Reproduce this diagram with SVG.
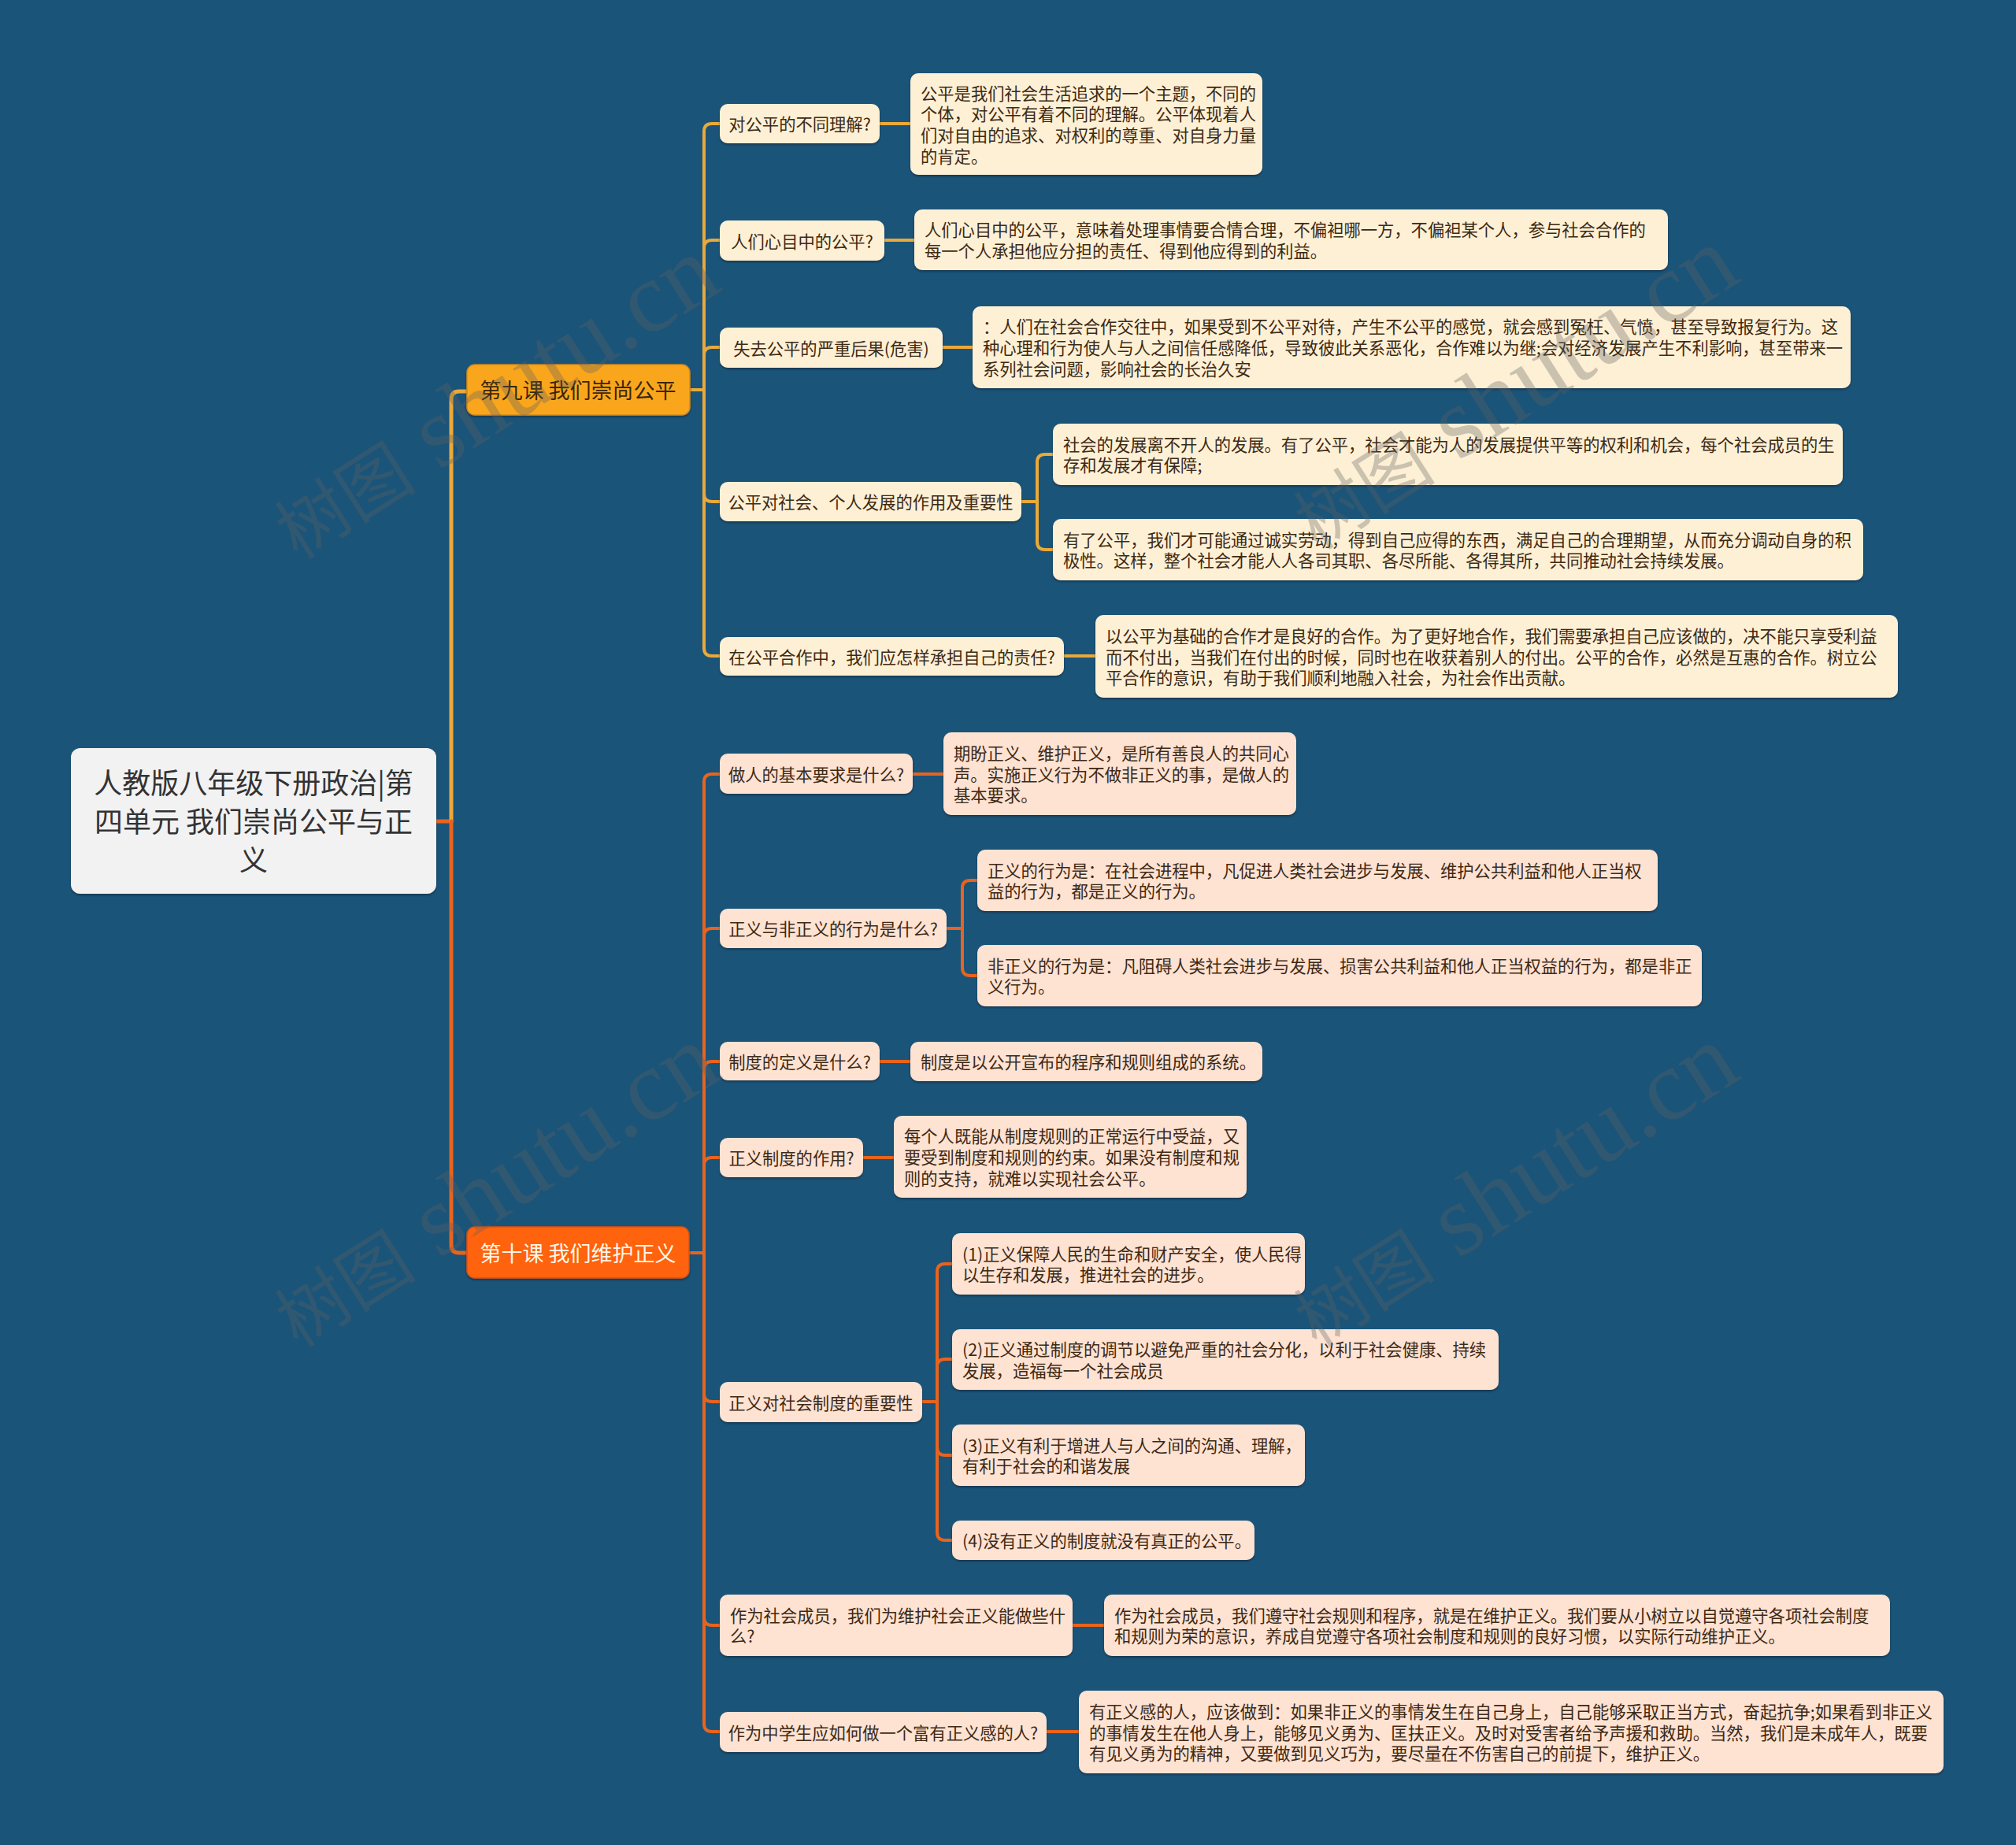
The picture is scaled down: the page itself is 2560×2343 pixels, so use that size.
<svg xmlns="http://www.w3.org/2000/svg" width="2560" height="2343" viewBox="0 0 2560 2343">
<defs>
<filter id="sh" x="-5%" y="-10%" width="110%" height="130%"><feDropShadow dx="0" dy="2" stdDeviation="1" flood-color="#0a2638" flood-opacity="0.6"/></filter>
<style>
text{font-family:"Noto Sans CJK SC","Noto Sans",sans-serif;}
.t{font-size:21.3px;fill:#3d2914;transform:translateY(1.5px);}
.sh{transform:translateY(1.5px);}
.n9{fill:#fdf0d5;filter:url(#sh);}
.n10{fill:#fee2d2;filter:url(#sh);}
.c9{fill:none;stroke:#eaa93a;stroke-width:4;stroke-linecap:round;}
.c10{fill:none;stroke:#e8641e;stroke-width:4;stroke-linecap:round;}
.tr{stroke-width:5;}
.wm{font-family:"Liberation Serif","Noto Sans CJK SC",serif;fill:#606060;fill-opacity:0.32;}
</style>
</defs>
<rect width="2560" height="2343" fill="#1b5479"/>

<g id="connectors">
<path class="c10 tr" d="M554 1043 H573"/>
<path class="c9 tr" d="M573 1043 V507 Q573 497 583 497 H593"/>
<path class="c10 tr" d="M573 1043 V1581 Q573 1591 583 1591 H593"/>
<path class="c9" d="M876 495 H894"/>
<path class="c9" d="M894 495 V167 Q894 157 904 157 H914"/>
<path class="c9" d="M894 495 V315 Q894 305 904 305 H914"/>
<path class="c9" d="M894 495 V451 Q894 441 904 441 H914"/>
<path class="c9" d="M894 495 V627 Q894 637 904 637 H914"/>
<path class="c9" d="M894 495 V823 Q894 833 904 833 H914"/>
<path class="c9" d="M1117 157 H1156"/>
<path class="c9" d="M1123 305 H1161"/>
<path class="c9" d="M1197 441 H1235"/>
<path class="c9" d="M1297 637 H1317"/>
<path class="c9" d="M1317 637 V587 Q1317 577 1327 577 H1337"/>
<path class="c9" d="M1317 637 V688 Q1317 698 1327 698 H1337"/>
<path class="c9" d="M1351 833 H1391"/>
<path class="c10" d="M876 1591 H894"/>
<path class="c10" d="M894 1591 V993 Q894 983 904 983 H914"/>
<path class="c10" d="M894 1591 V1189 Q894 1179 904 1179 H914"/>
<path class="c10" d="M894 1591 V1358 Q894 1348 904 1348 H914"/>
<path class="c10" d="M894 1591 V1480 Q894 1470 904 1470 H914"/>
<path class="c10" d="M894 1591 V1770 Q894 1780 904 1780 H914"/>
<path class="c10" d="M894 1591 V2054 Q894 2064 904 2064 H914"/>
<path class="c10" d="M894 1591 V2189 Q894 2199 904 2199 H914"/>
<path class="c10" d="M1159 983 H1198"/>
<path class="c10" d="M1202 1179 H1222"/>
<path class="c10" d="M1222 1179 V1128 Q1222 1118 1232 1118 H1241"/>
<path class="c10" d="M1222 1179 V1229 Q1222 1239 1232 1239 H1241"/>
<path class="c10" d="M1117 1348 H1156"/>
<path class="c10" d="M1096 1470 H1135"/>
<path class="c10" d="M1171 1780 H1190"/>
<path class="c10" d="M1190 1780 V1615 Q1190 1605 1200 1605 H1209"/>
<path class="c10" d="M1190 1780 V1736 Q1190 1726 1200 1726 H1209"/>
<path class="c10" d="M1190 1780 V1838 Q1190 1848 1200 1848 H1209"/>
<path class="c10" d="M1190 1780 V1946 Q1190 1956 1200 1956 H1209"/>
<path class="c10" d="M1362 2064 H1402"/>
<path class="c10" d="M1329 2199 H1370"/>
</g>

<g id="root">
<rect x="90" y="950" width="464" height="185" rx="12" fill="#f2f2f2" filter="url(#sh)"/>
<text class="sh" x="322" y="1006.5" text-anchor="middle" font-size="36" fill="#333333">人教版八年级下册政治|第</text>
<text class="sh" x="322" y="1055.5" text-anchor="middle" font-size="36" fill="#333333">四单元 我们崇尚公平与正</text>
<text class="sh" x="322" y="1104.5" text-anchor="middle" font-size="36" fill="#333333">义</text>
</g>

<g id="lesson9">
<rect x="593" y="463" width="283" height="64" rx="10" fill="#faa61e" stroke="#d48a1c" stroke-width="1.5" filter="url(#sh)"/>
<text class="sh" x="734" y="504.5" text-anchor="middle" font-size="27" fill="#3a2608">第九课 我们崇尚公平</text>
</g>
<g id="lesson10">
<rect x="593" y="1558" width="282" height="65" rx="10" fill="#ff640a" stroke="#d9520a" stroke-width="1.5" filter="url(#sh)"/>
<text class="sh" x="734" y="1600" text-anchor="middle" font-size="27" fill="#fff6e8">第十课 我们维护正义</text>
</g>

<g id="b9-1"><rect class="n9" x="914" y="132" width="203" height="50" rx="10"/><text class="t" x="1015.5" y="164.5" text-anchor="middle">对公平的不同理解?</text></g>
<g id="l9-1"><rect class="n9" x="1156" y="93" width="447" height="129" rx="10"/><text class="t" x="1169" y="125"><tspan x="1169">公平是我们社会生活追求的一个主题，不同的</tspan><tspan x="1169" dy="26.7">个体，对公平有着不同的理解。公平体现着人</tspan><tspan x="1169" dy="26.7">们对自由的追求、对权利的尊重、对自身力量</tspan><tspan x="1169" dy="26.7">的肯定。</tspan></text></g>

<g id="b9-2"><rect class="n9" x="914" y="280" width="209" height="51" rx="10"/><text class="t" x="1018.5" y="313" text-anchor="middle">人们心目中的公平?</text></g>
<g id="l9-2"><rect class="n9" x="1161" y="266" width="957" height="77" rx="10"/><text class="t" x="1174" y="298.7"><tspan x="1174">人们心目中的公平，意味着处理事情要合情合理，不偏袒哪一方，不偏袒某个人，参与社会合作的</tspan><tspan x="1174" dy="26.7">每一个人承担他应分担的责任、得到他应得到的利益。</tspan></text></g>

<g id="b9-3"><rect class="n9" x="914" y="416" width="283" height="51" rx="10"/><text class="t" x="1055.5" y="449" text-anchor="middle">失去公平的严重后果(危害)</text></g>
<g id="l9-3"><rect class="n9" x="1235" y="389" width="1115" height="104" rx="10"/><text class="t" x="1248" y="421.8"><tspan x="1248">：人们在社会合作交往中，如果受到不公平对待，产生不公平的感觉，就会感到冤枉、气愤，甚至导致报复行为。这</tspan><tspan x="1248" dy="26.7">种心理和行为使人与人之间信任感降低，导致彼此关系恶化，合作难以为继;会对经济发展产生不利影响，甚至带来一</tspan><tspan x="1248" dy="26.7">系列社会问题，影响社会的长治久安</tspan></text></g>

<g id="b9-4"><rect class="n9" x="914" y="612" width="383" height="50" rx="10"/><text class="t" x="1105.5" y="644.5" text-anchor="middle">公平对社会、个人发展的作用及重要性</text></g>
<g id="l9-4a"><rect class="n9" x="1337" y="538" width="1003" height="78" rx="10"/><text class="t" x="1350" y="571.2"><tspan x="1350">社会的发展离不开人的发展。有了公平，社会才能为人的发展提供平等的权利和机会，每个社会成员的生</tspan><tspan x="1350" dy="26.7">存和发展才有保障;</tspan></text></g>
<g id="l9-4b"><rect class="n9" x="1337" y="659" width="1029" height="78" rx="10"/><text class="t" x="1350" y="692.2"><tspan x="1350">有了公平，我们才可能通过诚实劳动，得到自己应得的东西，满足自己的合理期望，从而充分调动自身的积</tspan><tspan x="1350" dy="26.7">极性。这样，整个社会才能人人各司其职、各尽所能、各得其所，共同推动社会持续发展。</tspan></text></g>

<g id="b9-5"><rect class="n9" x="914" y="809" width="437" height="49" rx="10"/><text class="t" x="1132.5" y="841" text-anchor="middle">在公平合作中，我们应怎样承担自己的责任?</text></g>
<g id="l9-5"><rect class="n9" x="1391" y="781" width="1019" height="105" rx="10"/><text class="t" x="1404" y="814.3"><tspan x="1404">以公平为基础的合作才是良好的合作。为了更好地合作，我们需要承担自己应该做的，决不能只享受利益</tspan><tspan x="1404" dy="26.7">而不付出，当我们在付出的时候，同时也在收获着别人的付出。公平的合作，必然是互惠的合作。树立公</tspan><tspan x="1404" dy="26.7">平合作的意识，有助于我们顺利地融入社会，为社会作出贡献。</tspan></text></g>

<g id="b10-1"><rect class="n10" x="914" y="957" width="245" height="51" rx="10"/><text class="t" x="1036.5" y="990" text-anchor="middle">做人的基本要求是什么?</text></g>
<g id="l10-1"><rect class="n10" x="1198" y="930" width="448" height="105" rx="10"/><text class="t" x="1211" y="963.3"><tspan x="1211">期盼正义、维护正义，是所有善良人的共同心</tspan><tspan x="1211" dy="26.7">声。实施正义行为不做非正义的事，是做人的</tspan><tspan x="1211" dy="26.7">基本要求。</tspan></text></g>

<g id="b10-2"><rect class="n10" x="914" y="1154" width="288" height="50" rx="10"/><text class="t" x="1058" y="1186.5" text-anchor="middle">正义与非正义的行为是什么?</text></g>
<g id="l10-2a"><rect class="n10" x="1241" y="1079" width="864" height="78" rx="10"/><text class="t" x="1254" y="1112.2"><tspan x="1254">正义的行为是：在社会进程中，凡促进人类社会进步与发展、维护公共利益和他人正当权</tspan><tspan x="1254" dy="26.7">益的行为，都是正义的行为。</tspan></text></g>
<g id="l10-2b"><rect class="n10" x="1241" y="1200" width="920" height="78" rx="10"/><text class="t" x="1254" y="1233.2"><tspan x="1254">非正义的行为是：凡阻碍人类社会进步与发展、损害公共利益和他人正当权益的行为，都是非正</tspan><tspan x="1254" dy="26.7">义行为。</tspan></text></g>

<g id="b10-3"><rect class="n10" x="914" y="1323" width="203" height="49" rx="10"/><text class="t" x="1015.5" y="1355" text-anchor="middle">制度的定义是什么?</text></g>
<g id="l10-3"><rect class="n10" x="1156" y="1323" width="447" height="50" rx="10"/><text class="t" x="1169" y="1355.5">制度是以公开宣布的程序和规则组成的系统。</text></g>

<g id="b10-4"><rect class="n10" x="914" y="1445" width="182" height="50" rx="10"/><text class="t" x="1005" y="1477.5" text-anchor="middle">正义制度的作用?</text></g>
<g id="l10-4"><rect class="n10" x="1135" y="1417" width="448" height="104" rx="10"/><text class="t" x="1148" y="1449.8"><tspan x="1148">每个人既能从制度规则的正常运行中受益，又</tspan><tspan x="1148" dy="26.7">要受到制度和规则的约束。如果没有制度和规</tspan><tspan x="1148" dy="26.7">则的支持，就难以实现社会公平。</tspan></text></g>

<g id="b10-5"><rect class="n10" x="914" y="1755" width="257" height="51" rx="10"/><text class="t" x="1042.5" y="1788" text-anchor="middle">正义对社会制度的重要性</text></g>
<g id="l10-5-1"><rect class="n10" x="1209" y="1566" width="448" height="78" rx="10"/><text class="t" x="1222" y="1599.2"><tspan x="1222">(1)正义保障人民的生命和财产安全，使人民得</tspan><tspan x="1222" dy="26.7">以生存和发展，推进社会的进步。</tspan></text></g>
<g id="l10-5-2"><rect class="n10" x="1209" y="1688" width="694" height="77" rx="10"/><text class="t" x="1222" y="1720.7"><tspan x="1222">(2)正义通过制度的调节以避免严重的社会分化，以利于社会健康、持续</tspan><tspan x="1222" dy="26.7">发展，造福每一个社会成员</tspan></text></g>
<g id="l10-5-3"><rect class="n10" x="1209" y="1809" width="448" height="78" rx="10"/><text class="t" x="1222" y="1842.2"><tspan x="1222">(3)正义有利于增进人与人之间的沟通、理解，</tspan><tspan x="1222" dy="26.7">有利于社会的和谐发展</tspan></text></g>
<g id="l10-5-4"><rect class="n10" x="1209" y="1931" width="384" height="50" rx="10"/><text class="t" x="1222" y="1963.5">(4)没有正义的制度就没有真正的公平。</text></g>

<g id="b10-6"><rect class="n10" x="914" y="2025" width="448" height="78" rx="10"/><text class="t" x="927" y="2058.2"><tspan x="927">作为社会成员，我们为维护社会正义能做些什</tspan><tspan x="927" dy="26.7">么?</tspan></text></g>
<g id="l10-6"><rect class="n10" x="1402" y="2025" width="998" height="78" rx="10"/><text class="t" x="1415" y="2058.2"><tspan x="1415">作为社会成员，我们遵守社会规则和程序，就是在维护正义。我们要从小树立以自觉遵守各项社会制度</tspan><tspan x="1415" dy="26.7">和规则为荣的意识，养成自觉遵守各项社会制度和规则的良好习惯，以实际行动维护正义。</tspan></text></g>

<g id="b10-7"><rect class="n10" x="914" y="2174" width="415" height="51" rx="10"/><text class="t" x="1121.5" y="2207" text-anchor="middle">作为中学生应如何做一个富有正义感的人?</text></g>
<g id="l10-7"><rect class="n10" x="1370" y="2147" width="1098" height="105" rx="10"/><text class="t" x="1383" y="2180.3"><tspan x="1383">有正义感的人，应该做到：如果非正义的事情发生在自己身上，自己能够采取正当方式，奋起抗争;如果看到非正义</tspan><tspan x="1383" dy="26.7">的事情发生在他人身上，能够见义勇为、匡扶正义。及时对受害者给予声援和救助。当然，我们是未成年人，既要</tspan><tspan x="1383" dy="26.7">有见义勇为的精神，又要做到见义巧为，要尽量在不伤害自己的前提下，维护正义。</tspan></text></g>

<g id="watermarks">
<text class="wm" transform="translate(633 514) rotate(-32.5)" text-anchor="middle" y="30"><tspan font-size="90">树图</tspan><tspan font-size="128"> shutu.cn</tspan></text>
<text class="wm" transform="translate(1927 502) rotate(-32.5)" text-anchor="middle" y="30"><tspan font-size="90">树图</tspan><tspan font-size="128"> shutu.cn</tspan></text>
<text class="wm" transform="translate(633 1515) rotate(-32.5)" text-anchor="middle" y="30"><tspan font-size="90">树图</tspan><tspan font-size="128"> shutu.cn</tspan></text>
<text class="wm" transform="translate(1927 1515) rotate(-32.5)" text-anchor="middle" y="30"><tspan font-size="90">树图</tspan><tspan font-size="128"> shutu.cn</tspan></text>
</g>
</svg>
